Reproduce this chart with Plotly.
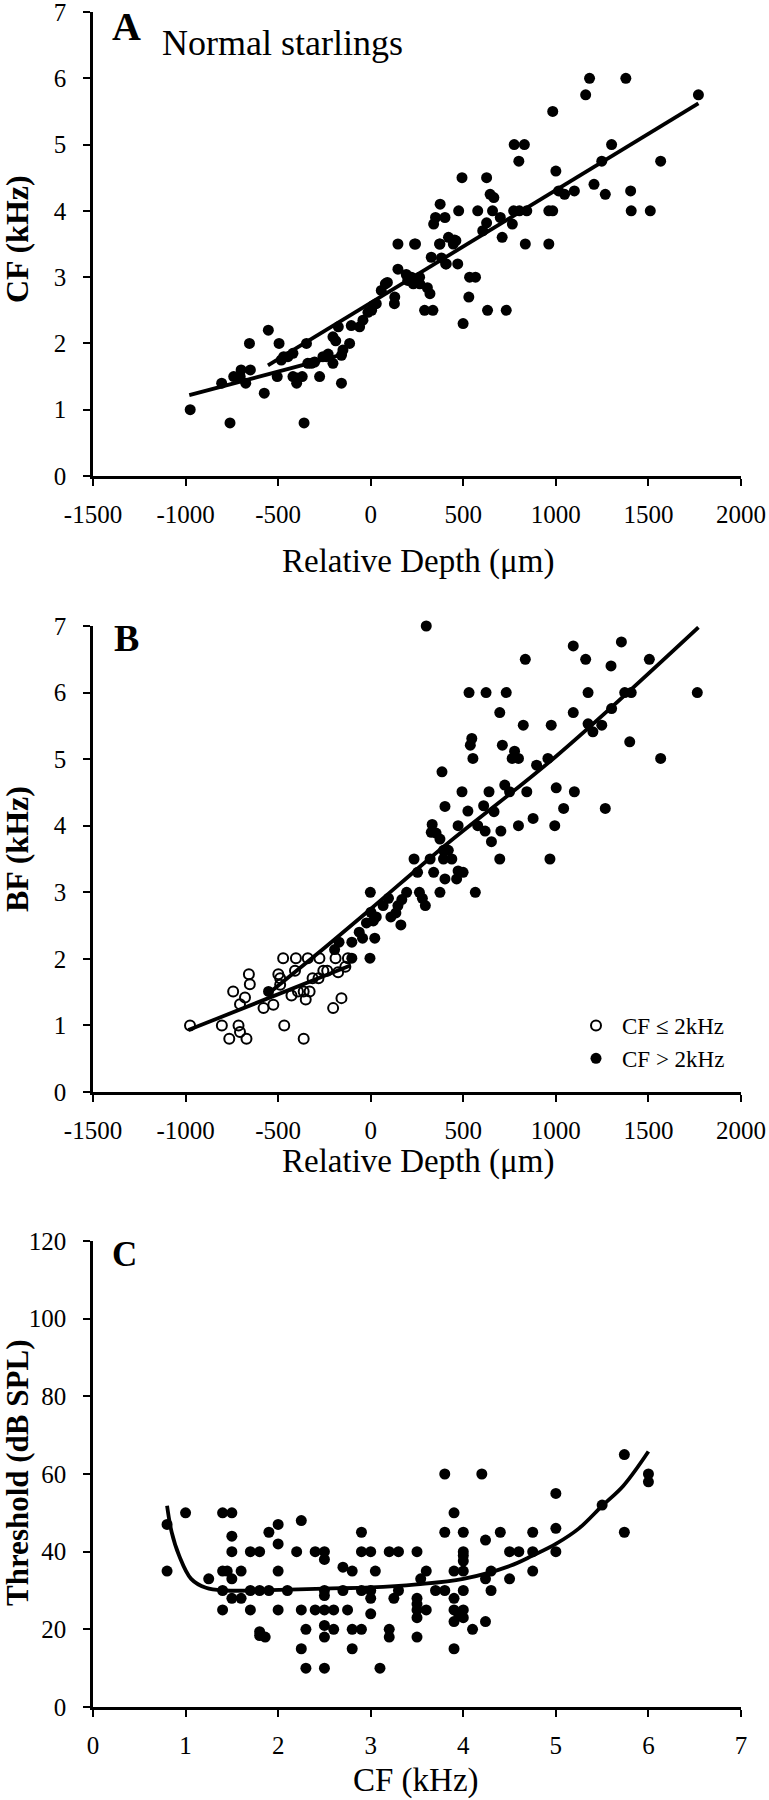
import plotly.graph_objects as go

# ---------------- Panel A: CF vs relative depth ----------------
a_depth = [-975, -760, -360, -805, -740, -700, -705, -675, -650, -655, -575, -553, -495, -505,
           -483, -470, -447, -420, -420, -400, -398, -370, -347, -340, -320, -303, -276, -258,
           -240, -230, -204, -204, -189, -175, -158, -158, -150, -114, -105, -60, -42, -15, 5,
           12, 30, 57, 90, 128, 130, 147, 147, 192, 200, 220, 230, 242, 265, 291, 336, 320, 306,
           327, 340, 350, 375, 374, 382, 408, 401, 405, 420, 446, 460, 470, 475, 493, 499, 530,
           534, 566, 578, 605, 626, 626, 631, 645, 665, 658, 700, 710, 732, 765, 772, 775, 800,
           803, 830, 835, 843, 962, 983, 962, 983, 1000, 1015, 1047, 1100, 1161, 1182, 1206,
           1248, 1267, 1301, 1378, 1404, 1407, 1510, 1566, 1770, 79, 237, 264, 372, 453]
a_cf = [1.0, 0.8, 0.8, 1.4, 1.5, 1.6, 1.5, 1.4, 1.6, 2.0, 1.25, 2.2, 2.0, 1.5,
        1.75, 1.8, 1.8, 1.85, 1.5, 1.4, 1.48, 1.5, 2.0, 1.7, 1.7, 1.72, 1.5, 1.8,
        1.8, 1.84, 2.1, 1.7, 2.04, 2.25, 1.4, 1.82, 1.9, 2.0, 2.27, 2.25, 2.35, 2.47, 2.5,
        2.57, 2.6, 2.8, 2.92, 2.6, 2.7, 3.5, 3.12, 3.04, 2.95, 3.0, 2.9, 3.5, 2.9, 2.5, 2.5, 2.75, 2.84,
        3.3, 3.8, 3.9, 4.1, 3.5, 3.29, 3.2, 3.9, 3.2, 3.6, 3.5, 3.55, 3.2, 4.0, 4.5, 2.3, 2.7,
        3.0, 3.0, 4.0, 3.7, 3.82, 4.5, 2.5, 4.25, 4.2, 4.0, 3.9, 3.6, 2.5, 3.8, 4.0, 5.0, 4.75,
        4.0, 5.0, 3.5, 4.0, 4.0, 4.0, 3.5, 5.5, 4.6, 4.3, 4.25, 4.3, 5.75, 6.0, 4.4,
        4.75, 4.25, 5.0, 6.0, 4.3, 4.0, 4.0, 4.75, 5.75, 2.9, 3.5, 3.0, 3.5, 3.56]
a_fit1_x = [-980, -130]
a_fit1_y = [1.22, 1.85]
a_fit2_x = [-555, 1770]
a_fit2_y = [1.67, 5.62]

# ---------------- Panel B: BF vs relative depth ----------------
b_low_depth = [-976, -804, -764, -743, -714, -706, -706, -679, -671, -658, -653, -579, -526, -499,
               -489, -489, -473, -467, -428, -409, -404, -393, -362, -362, -351, -340, -330, -314,
               -282, -277, -256, -235, -203, -190, -176, -158, -137, -123]
b_low_bf = [1.0, 1.0, 0.8, 1.51, 1.0, 0.9, 1.32, 1.42, 0.8, 1.77, 1.62, 1.26, 1.31, 1.77,
            1.71, 1.61, 2.01, 1.0, 1.45, 1.82, 2.01, 1.51, 0.8, 1.51, 1.39, 2.01, 1.51, 1.71,
            1.71, 2.01, 1.82, 1.82, 1.26, 2.01, 1.8, 1.41, 1.88, 2.01]
b_high_depth = [-552, -195, -171, -102, -102, -62, -44, -23, -4, -2, 1, 14, 22, 30, 67, 96, 109,
                136, 147, 163, 168, 194, 234, 253, 263, 279, 295, 300, 321, 327, 332, 340, 353,
                374, 374, 385, 393, 393, 401, 401, 419, 438, 464, 472, 472, 493, 499, 525, 531,
                538, 546, 552, 565, 578, 610, 623, 618, 639, 652, 666, 697, 697, 703, 711, 724,
                732, 750, 764, 777, 798, 798, 824, 835, 843, 877, 896, 957, 968, 975, 994, 1002,
                1042, 1094, 1094, 1100, 1161, 1174, 1174, 1200, 1248, 1267, 1298, 1301, 1354,
                1372, 1399, 1407, 1505, 1566, 1764]
b_high_bf = [1.51, 2.14, 2.25, 2.01, 2.25, 2.4, 2.31, 2.54, 2.01, 3.0, 2.7, 2.57, 2.31, 2.63, 2.8,
             2.91, 2.63, 2.69, 2.8, 2.51, 2.89, 3.0, 3.5, 3.3, 3.0, 2.91, 2.8, 7.0, 3.5, 3.9, 4.02,
             3.3, 3.89, 3.8, 3.0, 4.81, 3.63, 3.5, 4.29, 3.2, 3.63, 3.5, 3.2, 4.0, 3.32, 4.51, 3.3,
             4.22, 6.0, 5.21, 5.31, 5.01, 3.0, 4.0, 4.3, 6.0, 3.92, 4.51, 3.76, 4.21, 5.7, 3.5,
             3.92, 5.21, 4.61, 6.0, 4.51, 5.01, 5.12, 4.0, 5.01, 5.51, 6.5, 4.51, 4.11, 4.91,
             5.01, 3.5, 5.51, 4.0, 4.57, 4.26, 6.7, 5.7, 4.51, 6.5, 6.0, 5.53, 5.41, 5.51, 4.26,
             6.4, 5.76, 6.76, 6.0, 5.26, 6.0, 6.5, 5.01, 6.0]
b_fit1_x = [-985, -110]
b_fit1_y = [0.93, 1.9]
b_fit2_x = [-552, -300, 0, 400, 1000, 1770]
b_fit2_y = [1.48, 2.05, 2.75, 3.7, 5.04, 6.98]

# ---------------- Panel C: threshold vs CF ----------------
c_cf = [0.8, 0.8, 1.0, 1.25, 1.4, 1.5, 1.4, 1.45, 1.4, 1.4, 1.5, 1.5, 1.5, 1.5, 1.6, 1.6, 1.7,
        1.7, 1.7, 1.8, 1.8, 1.8, 1.8, 1.86, 1.9, 1.9, 2.0, 2.0, 2.0, 2.0, 2.1, 2.2, 2.25, 2.25,
        2.25, 2.3, 2.3, 2.4, 2.4, 2.5, 2.5, 2.5, 2.5, 2.5, 2.5, 2.5, 2.5, 2.6, 2.6, 2.7, 2.7,
        2.75, 2.8, 2.8, 2.8, 2.9, 2.9, 2.9, 2.9, 3.0, 3.0, 3.0, 3.0, 3.05, 3.1, 3.2, 3.2, 3.2,
        3.25, 3.3, 3.3, 3.5, 3.5, 3.5, 3.5, 3.5, 3.5, 3.54, 3.6, 3.6, 3.7, 3.8, 3.8, 3.8, 3.9,
        3.9, 3.9, 3.9, 3.9, 3.9, 3.95, 4.0, 4.0, 4.0, 4.0, 4.0, 4.0, 4.0, 4.0, 4.1, 4.2, 4.24,
        4.24, 4.24, 4.3, 4.3, 4.4, 4.5, 4.5, 4.6, 4.75, 4.75, 4.75, 5.0, 5.0, 5.0, 5.5, 5.74,
        5.74, 6.0, 6.0]
c_thr = [47, 35, 50, 33, 50, 50, 35, 35, 30, 25, 44, 40, 33, 28, 35, 28, 40,
         30, 25, 40, 30, 19.4, 18.4, 18, 45, 30, 47, 42, 35, 25, 30, 40, 48, 25,
         15, 20, 10, 40, 25, 40, 38, 30, 28.7, 25, 21, 18, 10, 25, 20, 36, 30,
         25, 35, 20, 15, 45, 40, 30, 20, 40, 30, 28, 24, 35, 10, 40, 20, 18,
         28, 40, 30, 40, 28, 26.5, 25, 23, 18, 33, 35, 25, 30, 60, 45, 30, 50,
         35, 28, 25, 22, 15, 24, 45, 40, 39, 37.6, 35, 30, 25, 23, 20, 60, 43,
         33, 22, 35, 30, 45, 40, 33, 40, 45, 40, 35, 55, 46, 40, 52, 65,
         45, 60, 58]
c_fit_x = [0.8, 0.85, 0.93, 1.06, 1.22, 1.43, 1.91, 2.5, 3.0, 3.5, 4.0, 4.5, 4.75, 5.0, 5.25,
           5.5, 5.73, 6.0]
c_fit_y = [51.8, 45, 39, 33, 30.7, 30, 30.1, 30.5, 30.8, 31.6, 33, 36.3, 39, 42, 46,
           51.8, 57, 65.8]

# tick labels
depth_ticks = [-1500, -1000, -500, 0, 500, 1000, 1500, 2000]
depth_ticktext = ["-1500", "-1000", "-500", "0", "500", "1000", "1500", "2000"]
freq_ticks = [0, 1, 2, 3, 4, 5, 6, 7]
thr_ticks = [0, 20, 40, 60, 80, 100, 120]

FONT = "Liberation Serif"
W, H = 769, 1800
X0, X1 = 93, 741
panels_px = [(12, 476), (626, 1092), (1241, 1707)]  # top, bottom in pixels


def ydom(top, bottom):
    return [1 - bottom / H, 1 - top / H]


fig = go.Figure()
mk = dict(color="black", size=11)
lw = dict(color="black", width=3.8)

# Panel A
fig.add_trace(go.Scatter(x=a_depth, y=a_cf, mode="markers", marker=mk, showlegend=False,
                         cliponaxis=False, xaxis="x", yaxis="y"))
fig.add_trace(go.Scatter(x=a_fit1_x, y=a_fit1_y, mode="lines", line=lw, showlegend=False,
                         xaxis="x", yaxis="y"))
fig.add_trace(go.Scatter(x=a_fit2_x, y=a_fit2_y, mode="lines", line=lw, showlegend=False,
                         xaxis="x", yaxis="y"))
# Panel B
fig.add_trace(go.Scatter(x=b_low_depth, y=b_low_bf, mode="markers", name="CF \u2264 2kHz",
                         marker=dict(color="black", size=10, symbol="circle-open",
                                     line=dict(width=2, color="black")),
                         cliponaxis=False, xaxis="x2", yaxis="y2"))
fig.add_trace(go.Scatter(x=b_high_depth, y=b_high_bf, mode="markers", name="CF > 2kHz",
                         marker=mk, cliponaxis=False, xaxis="x2", yaxis="y2"))
fig.add_trace(go.Scatter(x=b_fit1_x, y=b_fit1_y, mode="lines", line=lw, showlegend=False,
                         xaxis="x2", yaxis="y2"))
fig.add_trace(go.Scatter(x=b_fit2_x, y=b_fit2_y, mode="lines", line=lw, showlegend=False,
                         line_shape="spline", xaxis="x2", yaxis="y2"))
# Panel C
fig.add_trace(go.Scatter(x=c_cf, y=c_thr, mode="markers", marker=mk, showlegend=False,
                         cliponaxis=False, xaxis="x3", yaxis="y3"))
fig.add_trace(go.Scatter(x=c_fit_x, y=c_fit_y, mode="lines", line=lw, line_shape="spline",
                         showlegend=False, xaxis="x3", yaxis="y3"))

axis_common = dict(showline=True, linecolor="black", linewidth=2.5, ticks="outside", ticklen=7,
                   tickwidth=2, tickcolor="black", showgrid=False, zeroline=False,
                   automargin=False, ticklabeloverflow="allow",
                   tickfont=dict(family=FONT, size=25, color="black"), fixedrange=True)
xdom = [X0 / W, X1 / W]

layout = dict(
    width=W, height=H, autosize=False,
    margin=dict(l=0, r=0, t=0, b=0, autoexpand=False),
    paper_bgcolor="white", plot_bgcolor="white",
    font=dict(family=FONT, color="black"),
    showlegend=True,
    legend=dict(x=570 / W, y=1 - 1004 / H, xanchor="left", yanchor="top",
                font=dict(family=FONT, size=23, color="black"), bgcolor="rgba(0,0,0,0)",
                itemsizing="trace", tracegroupgap=0, itemwidth=42),
)
specs = [
    (panels_px[0], [-1500, 2000], depth_ticks, depth_ticktext, [0, 7], freq_ticks),
    (panels_px[1], [-1500, 2000], depth_ticks, depth_ticktext, [0, 7], freq_ticks),
    (panels_px[2], [0, 7], freq_ticks, [str(v) for v in freq_ticks], [0, 120], thr_ticks),
]
for i, ((top, bot), xr, xt, xtt, yr, yt) in enumerate(specs):
    s = "" if i == 0 else str(i + 1)
    layout["xaxis" + s] = dict(axis_common, domain=xdom, range=xr, anchor="y" + s,
                               tickmode="array", tickvals=xt, ticktext=xtt,
                               ticklabelstandoff=7)
    layout["yaxis" + s] = dict(axis_common, domain=ydom(top, bot), range=yr, anchor="x" + s,
                               tickmode="array", tickvals=yt, ticktext=[str(v) for v in yt],
                               ticklabelstandoff=12)
fig.update_layout(**layout)

ann = []
def A(text, x, y, size, bold=False, angle=0, xanchor="center"):
    ann.append(dict(text=("<b>%s</b>" % text) if bold else text, x=x / W, y=1 - y / H,
                    xref="paper", yref="paper", showarrow=False, textangle=angle,
                    xanchor=xanchor, yanchor="middle",
                    font=dict(family=FONT, size=size, color="black")))

A("A", 110, 26, 40, bold=True, xanchor="left")
A("Normal starlings", 160, 43, 36, xanchor="left")
A("B", 112, 638, 38, bold=True, xanchor="left")
A("C", 110, 1254.5, 35, bold=True, xanchor="left")
A("CF (kHz)", 17, 239, 32, bold=True, angle=-90)
A("BF (kHz)", 17, 849, 32, bold=True, angle=-90)
A("Threshold (dB SPL)", 17, 1473, 31, bold=True, angle=-90)
A("Relative Depth (\u03bcm)", 418, 561.5, 33)
A("Relative Depth (\u03bcm)", 418, 1161.5, 33)
A("CF (kHz)", 416, 1780, 33)
fig.update_layout(annotations=ann)

fig.write_html("out.html", config={"displayModeBar": False},
               post_script="document.body.style.margin='0px';document.body.style.padding='0px';"
                           "document.body.style.overflow='hidden';")
